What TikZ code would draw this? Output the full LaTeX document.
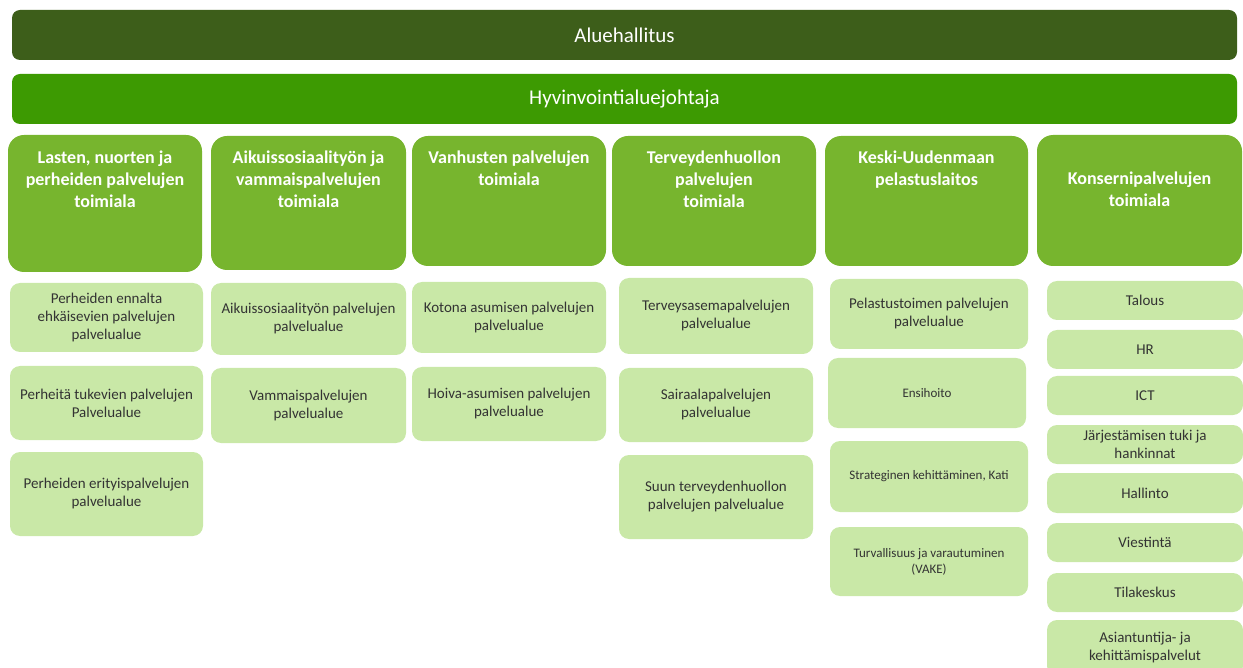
\documentclass[tikz,border=0pt]{standalone}
\usepackage{fontspec}
\setmainfont{Carlito}
\usetikzlibrary{positioning}
\definecolor{boardgreen}{HTML}{3D5E1A}
\definecolor{leadgreen}{HTML}{3D9A02}
\definecolor{branchgreen}{HTML}{77B52E}
\definecolor{unitgreen}{HTML}{C9E8A7}
\definecolor{unittext}{HTML}{333333}
\tikzset{
  wh/.style 2 args={minimum width=#1pt, minimum height=#2pt},
  topbar/.style={fill=#1, rounded corners=8pt, inner sep=0pt, wh={1225}{50},
    text=white, font=\fontsize{21}{25}\selectfont},
  branchbox/.style={fill=branchgreen, rounded corners=16pt, inner sep=0pt},
  branchtext/.style={text=white, inner sep=0pt, align=center,
    font=\fontsize{18}{22}\selectfont\bfseries},
  unitbox/.style={fill=unitgreen, rounded corners=10pt, inner sep=0pt, align=center,
    text=unittext, font=\fontsize{15}{18}\selectfont},
  smallunit/.style={unitbox, font=\fontsize{13}{16}\selectfont}
}

\begin{document}
\begin{tikzpicture}[x=1pt,y=-1pt]
\useasboundingbox (0,0) rectangle (1243,668);

% Board and director
\node[topbar=boardgreen] (board) at (624.5,35) {Aluehallitus};
\node[topbar=leadgreen] (lead) at (624.5,99) {Hyvinvointialuejohtaja};

% Branch boxes
\node[branchbox, wh={194}{137}] (kids) at (105,203.5) {};
\node[branchbox, wh={195}{134}] (adults) at (308.5,203) {};
\node[branchbox, wh={194}{130}] (elderly) at (509,201) {};
\node[branchbox, wh={204}{130}] (health) at (714,201) {};
\node[branchbox, wh={203}{130}] (rescue) at (926.5,201) {};
\node[branchbox, wh={205}{131}] (group) at (1139.5,200.5) {};

% Branch titles
\node[branchtext, below=16pt of kids.north] (kidst) {Lasten, nuorten ja\\perheiden palvelujen\\toimiala};
\node[branchtext, below=15pt of adults.north] (adultst) {Aikuissosiaalityön ja\\vammaispalvelujen\\toimiala};
\node[branchtext, below=15pt of elderly.north] (elderlyt) {Vanhusten palvelujen\\toimiala};
\node[branchtext, below=15pt of health.north] (healtht) {Terveydenhuollon\\palvelujen\\toimiala};
\node[branchtext, below=15pt of rescue.north] (rescuet) {Keski-Uudenmaan\\pelastuslaitos};
\node[branchtext, below=37pt of group.north] (groupt) {Konsernipalvelujen\\toimiala};

% Children, youth and families
\node[unitbox, wh={193}{69}] (kids1) at (106.5,317.5) {Perheiden ennalta\\ehkäisevien palvelujen\\palvelualue};
\node[unitbox, wh={193}{74}] (kids2) at (106.5,403) {Perheitä tukevien palvelujen\\Palvelualue};
\node[unitbox, wh={193}{84}] (kids3) at (106.5,494) {Perheiden erityispalvelujen\\palvelualue};

% Adults and disability
\node[unitbox, wh={195}{72}] (adults1) at (308.5,319) {Aikuissosiaalityön palvelujen\\palvelualue};
\node[unitbox, wh={195}{75}] (adults2) at (308.5,405.5) {Vammaispalvelujen\\palvelualue};

% Elderly
\node[unitbox, wh={194}{71}] (elderly1) at (509,317.5) {Kotona asumisen palvelujen\\palvelualue};
\node[unitbox, wh={194}{74}] (elderly2) at (509,404) {Hoiva-asumisen palvelujen\\palvelualue};

% Health care
\node[unitbox, wh={194}{76}] (health1) at (716,316) {Terveysasemapalvelujen\\palvelualue};
\node[unitbox, wh={194}{74}] (health2) at (716,405) {Sairaalapalvelujen\\palvelualue};
\node[unitbox, wh={194}{84}] (health3) at (716,497) {Suun terveydenhuollon\\palvelujen palvelualue};

% Rescue department
\node[unitbox, wh={198}{70}] (rescue1) at (929,314) {Pelastustoimen palvelujen\\palvelualue};
\node[smallunit, wh={198}{70}] (rescue2) at (927,393) {Ensihoito};
\node[smallunit, wh={198}{71}] (rescue3) at (929,476.5) {Strateginen kehittäminen, Kati};
\node[smallunit, wh={198}{69}] (rescue4) at (929,561.5) {Turvallisuus ja varautuminen\\(VAKE)};

% Group services
\node[unitbox, wh={196}{39}] (group1) at (1145,300.5) {Talous};
\node[unitbox, wh={196}{39}] (group2) at (1145,349.5) {HR};
\node[unitbox, wh={196}{39}] (group3) at (1145,395.5) {ICT};
\node[unitbox, wh={196}{39}] (group4) at (1145,444.5) {Järjestämisen tuki ja\\hankinnat};
\node[unitbox, wh={196}{40}] (group5) at (1145,493) {Hallinto};
\node[unitbox, wh={196}{39}] (group6) at (1145,542.5) {Viestintä};
\node[unitbox, wh={196}{39}] (group7) at (1145,592.5) {Tilakeskus};
\node[unitbox, wh={196}{56}] (group8) at (1145,648) {Asiantuntija- ja\\kehittämispalvelut};
\end{tikzpicture}
\end{document}
